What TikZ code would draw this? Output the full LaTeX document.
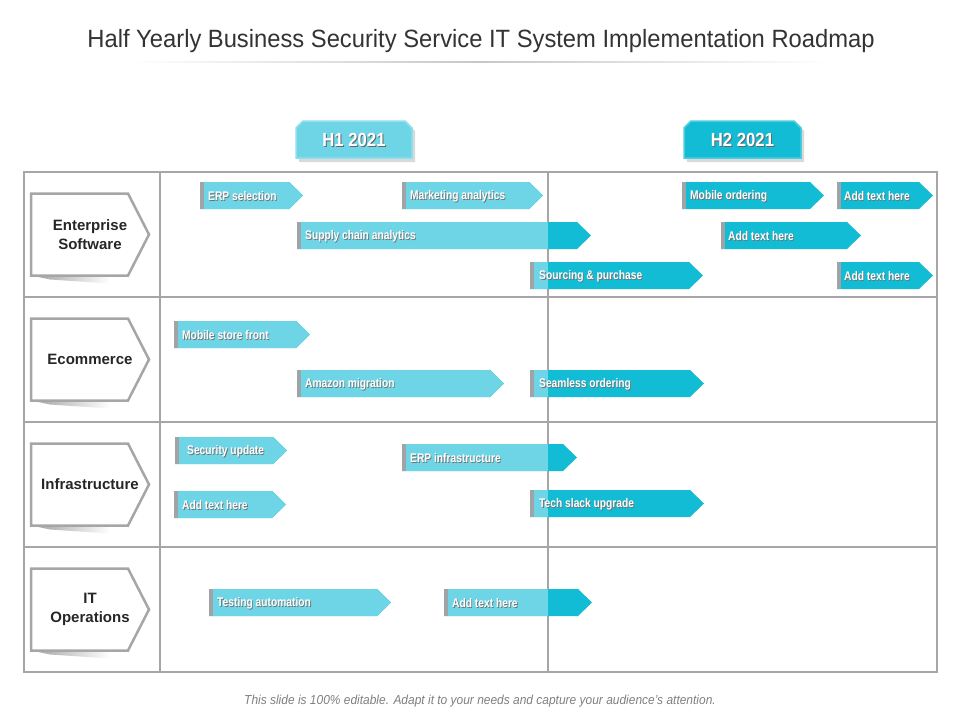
\documentclass[tikz,border=0pt]{standalone}
\usepackage{fontspec}
\setmainfont{Liberation Sans}
\newfontfamily\condfont[FakeStretch=0.82]{Liberation Sans}
\newfontfamily\titlefont[FakeStretch=0.95]{Liberation Sans}
\newfontfamily\headfont[FakeStretch=0.88]{Liberation Sans}
\newfontfamily\footfont[FakeStretch=0.92]{Liberation Sans}
\definecolor{lightc}{HTML}{6DD5E6}
\definecolor{darkc}{HTML}{12BCD4}
\definecolor{gridc}{HTML}{A6A6A6}
\definecolor{edgec}{HTML}{A0A4A6}
\tikzset{
  gridline/.style={draw=gridc, line width=1.2pt},
  tasktext/.style={anchor=west, inner sep=0pt, text=white, font=\condfont\bfseries\fontsize{12.5}{13}\selectfont},
  taskshadow/.style={tasktext, text=black!55},
  headtext/.style={inner sep=0pt, text=white, font=\headfont\bfseries\fontsize{19}{21}\selectfont},
  headshadow/.style={headtext, text=black!60},
  lanetext/.style={align=center, inner sep=0pt, text=black!85, font=\bfseries\fontsize{15}{19}\selectfont},
  lanebox/.style={draw=gridc, line width=2.5pt, fill=white, line join=miter},
}
% #1 name, #2 left x, #3 tip x, #4 top y, #5 split x, #6 text, #7 text offset
\newcommand\taskbar[7]{%
  \fill[darkc] (#2,#4) -- ({#3-14},#4) -- (#3,{#4+13.5}) -- ({#3-14},{#4+27}) -- (#2,{#4+27}) -- cycle;
  \begin{scope}
    \clip (#2,#4) -- ({#3-14},#4) -- (#3,{#4+13.5}) -- ({#3-14},{#4+27}) -- (#2,{#4+27}) -- cycle;
    \fill[lightc] (#2,#4) rectangle (#5,{#4+27});
  \end{scope}
  \fill[edgec] (#2,#4) rectangle ({#2+3.5},{#4+27});
  \node[taskshadow] at ({#2+#7+0.8},{#4+14.8}) {#6};
  \node[tasktext] (#1) at ({#2+#7},{#4+14}) {#6};
}
% #1 name, #2 left x, #3 right x, #4 colour, #5 text
\newcommand\headerbox[5]{%
  \fill[black!15] ({#2+3},131) -- ({#2+10},124) -- ({#3-4},124) -- ({#3+3},131) -- ({#3+3},162) -- ({#2+3},162) -- cycle;
  \filldraw[fill=#4, draw=#4!75!white, line width=1.5pt] (#2,128) -- ({#2+7},121) -- ({#3-7},121) -- (#3,128) -- (#3,158) -- (#2,158) -- cycle;
  \node[headshadow] at ({(#2+#3)/2+1},141) {#5};
  \node[headtext] (#1) at ({(#2+#3)/2},140) {#5};
}
% #1 name, #2 centre y, #3 text
\newcommand\lanebox[3]{%
  \shade[left color=black!35, right color=white] (36,{#2+42}) -- (110,{#2+42}) -- (110,{#2+49}) -- (50,{#2+45}) -- cycle;
  \path[lanebox] (31,{#2-41}) -- (128,{#2-41}) -- (149,#2) -- (128,{#2+41}) -- (31,{#2+41}) -- cycle;
  \node[lanetext] (#1) at (90,#2) {#3};
}
\begin{document}
\begin{tikzpicture}[x=1pt,y=-1pt]
\useasboundingbox (0,0) rectangle (960,720);
\fill[white] (0,0) rectangle (960,720);

% title
\node[text=black!80, font=\titlefont\fontsize{25}{28}\selectfont] (title) at (481,41) {Half Yearly Business Security Service IT System Implementation Roadmap};
\shade[left color=white, right color=white, middle color=black!22] (130,61.6) rectangle (830,62.6);

% headers
\headerbox{h1}{296}{412}{lightc}{H1 2021}
\headerbox{h2}{684}{801}{darkc}{H2 2021}

% grid
\draw[gridline] (24,172) rectangle (937,672);
\draw[gridline] (160,172) -- (160,672);
\draw[gridline] (548,172) -- (548,672);
\draw[gridline] (24,297) -- (937,297);
\draw[gridline] (24,422) -- (937,422);
\draw[gridline] (24,547) -- (937,547);

% lanes
\lanebox{ent}{234.5}{Enterprise\\Software}
\lanebox{eco}{359.5}{Ecommerce}
\lanebox{inf}{484.5}{Infrastructure}
\lanebox{itop}{609.5}{IT\\Operations}

% row 1
\taskbar{erp}{200}{303}{182}{303}{ERP selection}{8}
\taskbar{mkt}{402}{543}{182}{543}{Marketing analytics}{8}
\taskbar{sca}{297}{591}{222}{548}{Supply chain analytics}{8}
\taskbar{mob}{682}{824}{182}{682}{Mobile ordering}{8}
\taskbar{adda}{837}{933}{182}{837}{Add text here}{7}
\taskbar{addb}{721}{861}{222}{721}{Add text here}{7}
\taskbar{src}{530}{703}{262}{548}{Sourcing \& purchase}{9}
\taskbar{addc}{837}{933}{262}{837}{Add text here}{7}

% row 2
\taskbar{msf}{174}{310}{321}{310}{Mobile store front}{8}
\taskbar{amz}{297}{504}{370}{504}{Amazon migration}{8}
\taskbar{sea}{530}{704}{370}{548}{Seamless ordering}{9}

% row 3
\taskbar{sec}{175}{287}{437}{287}{Security update}{12}
\taskbar{addd}{174}{286}{491}{286}{Add text here}{8}
\taskbar{erpi}{402}{577}{444}{548}{ERP infrastructure}{8}
\taskbar{tech}{530}{704}{490}{548}{Tech slack upgrade}{9}

% row 4
\taskbar{test}{209}{391}{589}{391}{Testing automation}{8}
\taskbar{adde}{444}{592}{589}{548}{Add text here}{8}

% footer
\node[text=black!50, font=\footfont\itshape\fontsize{13}{15}\selectfont] (foot) at (480,701) {This slide is 100\% editable. Adapt it to your needs and capture your audience’s attention.};
\end{tikzpicture}
\end{document}
